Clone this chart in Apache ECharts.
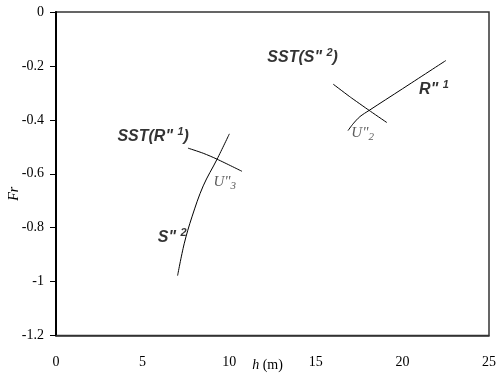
<!DOCTYPE html>
<html>
<head>
<meta charset="utf-8">
<script src="https://cdn.jsdelivr.net/npm/echarts@6/dist/echarts.min.js"></script>
<style>
    html, body { margin: 0; padding: 0; background: #fff; }
    #main { width: 498px; height: 383px; }
</style>
</head>
<body>
<div id="main"></div>
<script>
// x ticks / y ticks
var xTicks = [0, 5, 10, 15, 20, 25];
var yTicks = [0, -0.2, -0.4, -0.6, -0.8, -1, -1.2];

// curves [h, Fr]
var curveS2 = [[7.02, -0.978], [7.40, -0.86], [7.85, -0.76], [8.50, -0.645], [9.30, -0.546], [10.01, -0.452]];
var curveSSTR1 = [[7.62, -0.505], [8.5, -0.524], [9.30, -0.546], [10.74, -0.591]];
var curveSSTS2 = [[16.01, -0.268], [17.0, -0.316], [18.08, -0.365], [19.10, -0.410]];
var curveR1 = [[16.86, -0.440], [17.15, -0.415], [17.55, -0.388], [18.08, -0.365], [20.0, -0.285], [22.51, -0.180]];

// annotation labels: [h, Fr, text]
var boldLabels = [
    [5.61, -0.463, 'SST(R" {sup|1})'],
    [6.71, -0.837, 'S" {sup|2}'],
    [14.24, -0.170, 'SST(S" {sup|2})'],
    [21.82, -0.289, 'R" {sup|1}']
];
var pointLabels = [
    [9.09, -0.630, 'U"{sub|3}'],
    [17.05, -0.448, 'U"{sub|2}']
];

var chart = echarts.init(document.getElementById('main'));

function lineSeries(data, smooth) {
    return {
        type: 'line',
        data: data,
        smooth: smooth,
        showSymbol: false,
        silent: true,
        lineStyle: { color: '#000', width: 1 }
    };
}

var option = {
    animation: false,
    grid: {
        left: 56, right: 9, top: 12, bottom: 47.5,
        outerBoundsMode: 'none',
        containLabel: false,
        show: true,
        borderColor: '#333',
        borderWidth: 1.5
    },
    xAxis: {
        type: 'value',
        min: xTicks[0],
        max: xTicks[xTicks.length - 1],
        interval: 5,
        name: '{i|h} (m)',
        nameLocation: 'middle',
        nameMoveOverlap: false,
        nameGap: 23,
        nameTextStyle: {
            fontFamily: 'Liberation Serif', fontSize: 14, color: '#000',
            padding: [0, 0, 0, -10],
            rich: { i: { fontFamily: 'Liberation Serif', fontSize: 14, fontStyle: 'italic', color: '#000' } }
        },
        axisLine: { onZero: false, lineStyle: { color: '#333', width: 1.5 } },
        axisTick: { show: false },
        splitLine: { show: false },
        axisLabel: { fontFamily: 'Liberation Serif', fontSize: 14, color: '#000', margin: 20 }
    },
    yAxis: {
        type: 'value',
        min: yTicks[yTicks.length - 1],
        max: yTicks[0],
        interval: 0.2,
        name: 'Fr',
        nameLocation: 'middle',
        nameMoveOverlap: false,
        nameRotate: 90,
        nameGap: 35,
        nameTextStyle: {
            fontFamily: 'Liberation Serif', fontSize: 14, fontStyle: 'italic', color: '#000',
            padding: [0, 40, 0, 0]
        },
        axisLine: { onZero: false, lineStyle: { color: '#000', width: 2 } },
        axisTick: { show: true, inside: false, length: 6, lineStyle: { color: '#000' } },
        splitLine: { show: false },
        axisLabel: {
            fontFamily: 'Liberation Serif', fontSize: 14, color: '#000', margin: 12,
            formatter: function (v) { return String(Math.round(v * 10) / 10); }
        }
    },
    series: [
        lineSeries(curveS2, 0.35),
        lineSeries(curveSSTR1, 0.3),
        lineSeries(curveSSTS2, 0.1),
        lineSeries(curveR1, 0.3),
        {
            type: 'scatter',
            symbolSize: 0,
            silent: true,
            data: boldLabels.map(function (d) { return { value: [d[0], d[1]], text: d[2] }; }),
            label: {
                show: true,
                position: 'inside',
                formatter: function (p) { return p.data.text; },
                fontFamily: 'Liberation Sans', fontSize: 16, fontWeight: 'bold', fontStyle: 'italic', color: '#000',
                rich: {
                    sup: { fontFamily: 'Liberation Sans', fontSize: 11, fontWeight: 'bold', fontStyle: 'italic', color: '#000', padding: [0, 0, 10, 0] }
                }
            }
        },
        {
            type: 'scatter',
            symbolSize: 0,
            silent: true,
            data: pointLabels.map(function (d) { return { value: [d[0], d[1]], text: d[2] }; }),
            label: {
                show: true,
                position: 'right',
                distance: 0,
                formatter: function (p) { return p.data.text; },
                fontFamily: 'Liberation Serif', fontSize: 15, fontStyle: 'italic', color: '#333',
                rich: {
                    sub: { fontFamily: 'Liberation Serif', fontSize: 11, fontStyle: 'italic', color: '#333', padding: [8, 0, 0, 0] }
                }
            }
        }
    ]
};

chart.setOption(option);
</script>
</body>
</html>
